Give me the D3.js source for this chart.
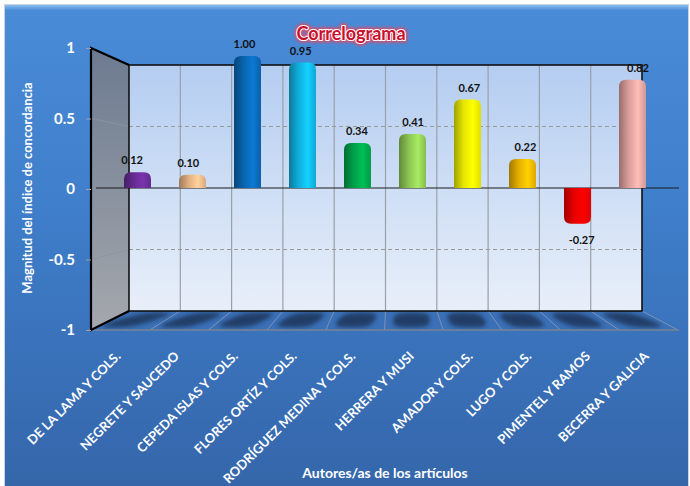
<!DOCTYPE html>
<html>
<head>
<meta charset="utf-8">
<script src="https://cdn.jsdelivr.net/npm/d3@7"></script>
<style>
  body { margin: 0; background: #fff; }
  svg { display: block; font-family: Lato, "Open Sans", sans-serif; }
</style>
</head>
<body>
<svg id="chart" width="690" height="486"></svg>
<script>
// data
var authors = ['DE LA LAMA Y COLS.', 'NEGRETE Y SAUCEDO', 'CEPEDA ISLAS Y COLS.', 'FLORES ORTÍZ Y COLS.',
    'RODRÍGUEZ MEDINA Y COLS.', 'HERRERA Y MUSI', 'AMADOR Y COLS.', 'LUGO Y COLS.',
    'PIMENTEL Y RAMOS', 'BECERRA Y GALICIA'];
var concordance = [0.12, 0.10, 1.00, 0.95, 0.34, 0.41, 0.67, 0.22, -0.27, 0.82];
var barColors = ['#7030a0', '#f9c18f', '#0a6fc2', '#12c0f4', '#00b050', '#9ad85a',
    '#ffff00', '#ffc000', '#ff0000', '#f0aeaa'];
var yTicks = [-1, -0.5, 0, 0.5, 1];

var svg = d3.select('#chart'),
    width = +svg.attr('width'),
    height = +svg.attr('height');

var defs = svg.append('defs');

// 3d box: front plane, back wall and the depth where the bars stand
var xFront = d3.scaleBand().domain(authors).range([91, 678]);
var xBack = d3.scaleBand().domain(authors).range([129, 642]);
var xMid = d3.scaleBand().domain(authors).range([110, 660]);
var xLab = d3.scaleBand().domain(authors).range([104, 666]);
var barW = 27;

var yFront = d3.scaleLinear().domain([-1, 1]).range([330, 48]);
var yBack = d3.scaleLinear().domain([-1, 1]).range([311, 65]);
var yMid = d3.scaleLinear().domain([-1, 1]).range([320, 56]);

// gradients
function vGrad(id, stops) {
    var g = defs.append('linearGradient').attr('id', id)
        .attr('x1', 0).attr('y1', 0).attr('x2', 0).attr('y2', 1);
    stops.forEach(s => g.append('stop').attr('offset', s[0]).attr('stop-color', s[1]));
}
vGrad('bgGrad', [[0, '#8fc3f2'], [0.012, '#4a8bd8'], [0.4, '#3f7fcc'], [1, '#3566aa']]);
vGrad('wallGrad', [[0, '#b4cdf1'], [1, '#e8eff9']]);
vGrad('sideGrad', [[0, '#6c7a90'], [1, '#a5a8ad']]);

barColors.forEach((c, i) => {
    var base = d3.color(c);
    var g = defs.append('linearGradient').attr('id', 'bar' + i)
        .attr('x1', 0).attr('y1', 0).attr('x2', 1).attr('y2', 0);
    g.append('stop').attr('offset', 0).attr('stop-color', base.darker(1.3));
    g.append('stop').attr('offset', 0.35).attr('stop-color', base.darker(0.3));
    g.append('stop').attr('offset', 0.7).attr('stop-color', base.brighter(0.25));
    g.append('stop').attr('offset', 1).attr('stop-color', base.darker(0.4));
});

var blur = defs.append('filter').attr('id', 'shadowBlur')
    .attr('x', '-50%').attr('y', '-50%').attr('width', '200%').attr('height', '200%');
blur.append('feGaussianBlur').attr('stdDeviation', 2);

var glow = defs.append('filter').attr('id', 'glow')
    .attr('x', '-20%').attr('y', '-50%').attr('width', '140%').attr('height', '200%');
glow.append('feGaussianBlur').attr('stdDeviation', 1.6);

// chart area
svg.append('rect')
    .attr('x', 4.5).attr('y', 4.5)
    .attr('width', width - 6).attr('height', height - 4)
    .attr('fill', 'url(#bgGrad)')
    .attr('stroke', '#c9d3df').attr('stroke-width', 1);

// floor
var floorTop = yBack(-1), floorBot = yFront(-1);
svg.append('path')
    .attr('d', d3.line()([[91, floorBot], [129, floorTop], [642, floorTop], [678, floorBot]]) + 'Z')
    .attr('fill', '#3b70b7');

// bar shadows on the floor, one per cell
var shadows = svg.append('g').attr('filter', 'url(#shadowBlur)');
authors.forEach(a => {
    var bl = xBack(a), br = bl + xBack.bandwidth();
    var fl = xFront(a), fr = fl + xFront.bandwidth();
    var inB = xBack.bandwidth() * 0.2, inF = xFront.bandwidth() * 0.22;
    shadows.append('path')
        .attr('d', d3.line().curve(d3.curveCardinalClosed.tension(0.1))([
            [bl + inB + 2, floorTop + 3], [br - inB, floorTop + 3],
            [fr - inF - 4, floorBot - 4], [fl + inF - 2, floorBot - 4]]))
        .attr('fill', '#1c375e').attr('opacity', 0.9);
});

svg.append('g').selectAll('line')
    .data(authors)
    .enter().append('line')
    .attr('x1', d => xBack(d) + xBack.bandwidth())
    .attr('y1', floorTop)
    .attr('x2', d => xFront(d) + xFront.bandwidth())
    .attr('y2', floorBot)
    .attr('stroke', '#8c9bb0').attr('stroke-width', 0.8);

svg.append('line')
    .attr('x1', 88).attr('x2', 679)
    .attr('y1', floorBot).attr('y2', floorBot)
    .attr('stroke', '#7a8592').attr('stroke-width', 1.5);

// side wall
svg.append('path')
    .attr('d', d3.line()([[91, yFront(1)], [129, yBack(1)], [129, yBack(-1)], [91, yFront(-1)]]) + 'Z')
    .attr('fill', 'url(#sideGrad)');

svg.append('g').selectAll('line')
    .data([0.5, -0.5])
    .enter().append('line')
    .attr('x1', 91).attr('y1', d => yFront(d))
    .attr('x2', 129).attr('y2', d => yBack(d))
    .attr('stroke', '#8f949b').attr('stroke-width', 0.8);

// back wall
svg.append('rect')
    .attr('x', 129).attr('y', yBack(1))
    .attr('width', 642 - 129).attr('height', yBack(-1) - yBack(1))
    .attr('fill', 'url(#wallGrad)');

svg.append('g').selectAll('line')
    .data(authors.slice(1))
    .enter().append('line')
    .attr('x1', d => xBack(d)).attr('x2', d => xBack(d))
    .attr('y1', yBack(1)).attr('y2', yBack(-1))
    .attr('stroke', '#9aa0a8').attr('stroke-width', 1.2);

svg.append('g').selectAll('line')
    .data([0.5, -0.5])
    .enter().append('line')
    .attr('x1', 129).attr('x2', 642)
    .attr('y1', d => yBack(d)).attr('y2', d => yBack(d))
    .attr('stroke', '#9a9a9a').attr('stroke-width', 1)
    .attr('stroke-dasharray', '4,3');

svg.append('rect')
    .attr('x', 129).attr('y', yBack(1))
    .attr('width', 642 - 129).attr('height', yBack(-1) - yBack(1))
    .attr('fill', 'none').attr('stroke', '#111').attr('stroke-width', 1.6);

// edges of the side wall
svg.append('path')
    .attr('d', d3.line()([[129, yBack(1)], [91, yFront(1)], [91, yFront(-1)], [129, yBack(-1)]]))
    .attr('fill', 'none').attr('stroke', '#000').attr('stroke-width', 2.2);

// zero line
svg.append('line')
    .attr('x1', 96).attr('x2', 679)
    .attr('y1', yMid(0)).attr('y2', yMid(0))
    .attr('stroke', '#1a1a1a').attr('stroke-width', 1.2);

// bars as cylinders with rounded ends
function barPath(d) {
    var x0 = xMid(d.name) + (xMid.bandwidth() - barW) / 2, w = barW, r = 7;
    var y0 = yMid(0), y1 = yMid(d.value);
    var s = d.value >= 0 ? 1 : -1;
    var p = d3.path();
    p.moveTo(x0, y0);
    p.lineTo(x0, y1 + s * r);
    p.quadraticCurveTo(x0, y1, x0 + r, y1);
    p.lineTo(x0 + w - r, y1);
    p.quadraticCurveTo(x0 + w, y1, x0 + w, y1 + s * r);
    p.lineTo(x0 + w, y0);
    p.closePath();
    return p.toString();
}

var barData = authors.map((a, i) => ({ name: a, value: concordance[i], i: i }));

svg.append('g').selectAll('path')
    .data(barData)
    .enter().append('path')
    .attr('d', barPath)
    .attr('fill', d => 'url(#bar' + d.i + ')');

// value labels
svg.append('g').selectAll('text')
    .data(barData)
    .enter().append('text')
    .attr('x', d => xLab(d.name) + xLab.bandwidth() / 2)
    .attr('y', d => d.value >= 0 ? yMid(d.value) - 8 : yMid(d.value) + 20)
    .attr('text-anchor', 'middle')
    .attr('font-size', 11).attr('font-weight', 'bold')
    .attr('fill', '#111')
    .text(d => d.value.toFixed(2));

// y axis
var yAxis = svg.append('g')
    .attr('transform', 'translate(91,0)')
    .call(d3.axisLeft(yFront).tickValues(yTicks).tickSize(5).tickPadding(11)
        .tickFormat(d => String(d)));
yAxis.select('.domain').remove();
yAxis.selectAll('line').attr('stroke', '#9aa3ad');
yAxis.selectAll('text')
    .attr('fill', '#fff').attr('font-size', 15).attr('font-weight', 'bold')
    .attr('font-family', 'Lato, sans-serif');

// category labels along the front edge
var xAxis = svg.append('g')
    .attr('transform', 'translate(0,' + floorBot + ')')
    .call(d3.axisBottom(xFront).tickSize(0).tickPadding(0));
xAxis.select('.domain').remove();
xAxis.selectAll('text')
    .attr('fill', '#fff').attr('font-size', 13).attr('font-weight', 'bold')
    .attr('font-family', 'Lato, sans-serif')
    .attr('text-anchor', 'end')
    .attr('dy', null).attr('y', 0)
    .attr('transform', 'translate(1,27) rotate(-45)');

// axis titles
svg.append('text')
    .attr('transform', 'translate(32,188) rotate(-90)')
    .attr('text-anchor', 'middle')
    .attr('fill', '#fff').attr('font-size', 13).attr('font-weight', 'bold')
    .text('Magnitud del índice de concordancia');

svg.append('text')
    .attr('x', 385).attr('y', 478)
    .attr('text-anchor', 'middle')
    .attr('fill', '#fff').attr('font-size', 14).attr('font-weight', 'bold')
    .text('Autores/as de los artículos');

// title with glow
var title = svg.append('g').attr('transform', 'translate(351,40)');
title.append('text')
    .attr('text-anchor', 'middle').attr('font-size', 18).attr('font-weight', 'bold')
    .attr('fill', '#e04662').attr('stroke', '#e04662').attr('stroke-width', 5)
    .attr('stroke-linejoin', 'round').attr('filter', 'url(#glow)')
    .text('Correlograma');
title.append('text')
    .attr('text-anchor', 'middle').attr('font-size', 18).attr('font-weight', 'bold')
    .attr('fill', '#c8102e').attr('stroke', '#fff').attr('stroke-width', 2.2)
    .attr('stroke-linejoin', 'round').attr('paint-order', 'stroke')
    .text('Correlograma');
</script>
</body>
</html>
